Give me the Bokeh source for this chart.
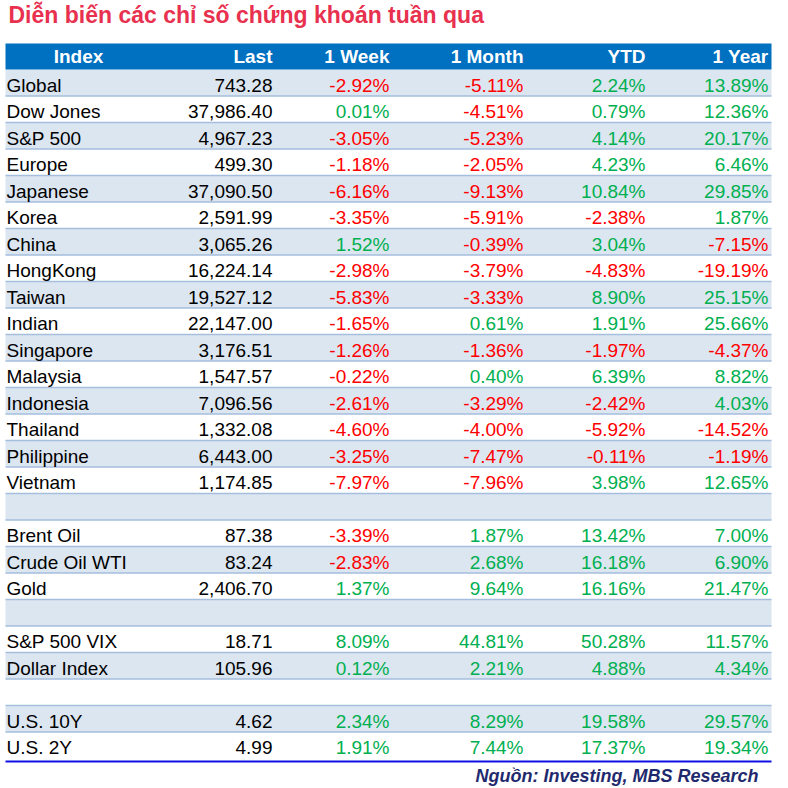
from bokeh.plotting import figure
from bokeh.models import Range1d, ColumnDataSource
from bokeh.core.properties import value
from bokeh.embed import file_html
from bokeh.resources import INLINE

title = "Diễn biến các chỉ số chứng khoán tuần qua"
source_note = "Nguồn: Investing, MBS Research"
headers = ["Index", "Last", "1 Week", "1 Month", "YTD", "1 Year"]

names = ["Global", "Dow Jones", "S&P 500", "Europe", "Japanese", "Korea", "China",
         "HongKong", "Taiwan", "Indian", "Singapore", "Malaysia", "Indonesia",
         "Thailand", "Philippine", "Vietnam", "", "Brent Oil", "Crude Oil WTI",
         "Gold", "", "S&P 500 VIX", "Dollar Index", "", "U.S. 10Y", "U.S. 2Y"]
last = [743.28, 37986.40, 4967.23, 499.30, 37090.50, 2591.99, 3065.26, 16224.14,
        19527.12, 22147.00, 3176.51, 1547.57, 7096.56, 1332.08, 6443.00, 1174.85,
        None, 87.38, 83.24, 2406.70, None, 18.71, 105.96, None, 4.62, 4.99]
week = [-2.92, 0.01, -3.05, -1.18, -6.16, -3.35, 1.52, -2.98, -5.83, -1.65, -1.26,
        -0.22, -2.61, -4.60, -3.25, -7.97, None, -3.39, -2.83, 1.37, None, 8.09,
        0.12, None, 2.34, 1.91]
month = [-5.11, -4.51, -5.23, -2.05, -9.13, -5.91, -0.39, -3.79, -3.33, 0.61, -1.36,
         0.40, -3.29, -4.00, -7.47, -7.96, None, 1.87, 2.68, 9.64, None, 44.81,
         2.21, None, 8.29, 7.44]
ytd = [2.24, 0.79, 4.14, 4.23, 10.84, -2.38, 3.04, -4.83, 8.90, 1.91, -1.97, 6.39,
       -2.42, -5.92, -0.11, 3.98, None, 13.42, 16.18, 16.16, None, 50.28, 4.88,
       None, 19.58, 17.37]
year = [13.89, 12.36, 20.17, 6.46, 29.85, 1.87, -7.15, -19.19, 25.15, 25.66, -4.37,
        8.82, 4.03, -14.52, -1.19, 12.65, None, 7.00, 6.90, 21.47, None, 11.57,
        4.34, None, 29.57, 19.34]

# layout (data coordinates equal page pixels)
W = H = 788
FONT = value("Liberation Sans")
X0, X1 = 5, 771
HEAD_TOP, HEAD_H = 43, 26
ROW_H = 26.5
BODY_TOP = HEAD_TOP + HEAD_H
col_right = [None, 272, 389, 523, 645, 768]
GREEN, RED = "#00B050", "#FF0000"

p = figure(width=W, height=H, x_range=Range1d(0, W), y_range=Range1d(H, 0),
           output_backend="svg", toolbar_location=None, min_border=0)
p.axis.visible = False
p.grid.visible = False
p.outline_line_color = None
p.background_fill_color = "white"

n = len(names)
tops = [BODY_TOP + i * ROW_H for i in range(n)]
shade_idx = [i for i in range(n) if i % 2 == 0]
p.quad(left=X0, right=X1, top=[tops[i] for i in shade_idx],
       bottom=[tops[i] + ROW_H for i in shade_idx],
       fill_color="#DCE6F1", line_color=None)

# row separators
seps = [tops[i] for i in range(1, n)]
p.segment(x0=X0, x1=X1, y0=seps, y1=seps, line_color="#A5BEDD", line_width=1.5)

# header band
p.quad(left=X0, right=X1, top=HEAD_TOP, bottom=HEAD_TOP + HEAD_H,
       fill_color="#0070C0", line_color=None)
hx = [78] + col_right[1:]
halign = ["center"] + ["right"] * 5
p.text(x=hx, y=[HEAD_TOP + 12.5] * 6, text=headers, text_align=halign,
       text_baseline="middle", text_color="white", text_font=FONT,
       text_font_style="bold", text_font_size="19px")

# bottom rule
bottom = tops[-1] + ROW_H
p.segment(x0=X0, x1=X1, y0=bottom + 3, y1=bottom + 3, line_color="#1010E6", line_width=2.2)

# body text
mid = [t + 15.5 for t in tops]
rows_x, rows_y, rows_t, rows_c, rows_a = [], [], [], [], []
for i in range(n):
    if names[i]:
        rows_x.append(6); rows_y.append(mid[i]); rows_t.append(names[i])
        rows_c.append("black"); rows_a.append("left")
    if last[i] is not None:
        rows_x.append(col_right[1]); rows_y.append(mid[i])
        rows_t.append(f"{last[i]:,.2f}"); rows_c.append("black"); rows_a.append("right")
    for k, series in enumerate([week, month, ytd, year]):
        v = series[i]
        if v is None:
            continue
        rows_x.append(col_right[2 + k]); rows_y.append(mid[i])
        rows_t.append(f"{v:.2f}%"); rows_c.append(GREEN if v >= 0 else RED)
        rows_a.append("right")
src = ColumnDataSource(dict(x=rows_x, y=rows_y, t=rows_t, c=rows_c, a=rows_a))
p.text(x="x", y="y", text="t", text_color="c", text_align="a", source=src,
       text_baseline="middle", text_font=FONT, text_font_size="19px")

# title & source
p.text(x=[8], y=[14], text=[title], text_align="left", text_baseline="middle",
       text_color="#E8304F", text_font=FONT, text_font_style="bold", text_font_size="23px")
p.text(x=[758], y=[775], text=[source_note], text_align="right", text_baseline="middle",
       text_color="#1F2A6E", text_font=FONT, text_font_style="bold italic",
       text_font_size="18px")

open("out.html", "w").write(file_html(p, INLINE))
